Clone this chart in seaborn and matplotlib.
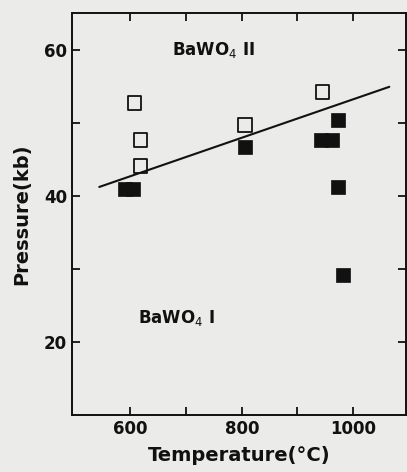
import pandas as pd
import matplotlib
matplotlib.use('Agg')
import matplotlib.pyplot as plt
import seaborn as sns

# open squares = BaWO4 II observed, filled = BaWO4 I observed
open_T = [607, 618, 618, 806, 945]
open_P = [52.7, 47.6, 44.1, 49.7, 54.2]
filled_T = [591, 604, 805, 943, 962, 973, 972, 982]
filled_P = [40.9, 40.9, 46.7, 47.6, 47.6, 50.4, 41.2, 29.1]
line_T = [544, 1065]
line_P = [41.2, 54.9]

df_open = pd.DataFrame({'T': open_T, 'P': open_P})
df_filled = pd.DataFrame({'T': filled_T, 'P': filled_P})
df_line = pd.DataFrame({'T': line_T, 'P': line_P})

sns.set_style('ticks')
plt.rcParams['font.family'] = ['DejaVu Sans']
bg = '#ebebe9'
ink = '#111111'

fig = plt.figure(figsize=(4.07, 4.72), dpi=100, facecolor=bg)
ax = fig.add_axes([72/407, 1 - 415/472, (406-72)/407, (415-13)/472])
ax.set_facecolor(bg)

sns.lineplot(data=df_line, x='T', y='P', color=ink, linewidth=1.5, ax=ax)
sns.scatterplot(data=df_open, x='T', y='P', marker='s', s=95, facecolor='none',
                edgecolor=ink, linewidth=1.3, ax=ax)
sns.scatterplot(data=df_filled, x='T', y='P', marker='s', s=115, color=ink,
                edgecolor=ink, linewidth=0.5, ax=ax)

ax.text(675, 60, 'BaWO$_4$ II', fontsize=12, fontweight='bold', va='center', ha='left', color=ink)
ax.text(613, 23.3, 'BaWO$_4$ I', fontsize=12, fontweight='bold', va='center', ha='left', color=ink)

ax.set_xlim(495, 1095)
ax.set_ylim(10, 65)
ax.set_xticks([600, 700, 800, 900, 1000])
ax.set_xticklabels(['600', '', '800', '', '1000'])
ax.set_yticks([20, 30, 40, 50, 60])
ax.set_yticklabels(['20', '', '40', '', '60'])
ax.tick_params(direction='in', length=6, width=1.3, top=True, right=True,
               labelsize=12, colors=ink)
for lab in ax.get_xticklabels() + ax.get_yticklabels():
    lab.set_fontweight('bold')
for sp in ax.spines.values():
    sp.set_linewidth(1.4)
    sp.set_color(ink)

ax.set_xlabel('Temperature(°C)', fontsize=14, fontweight='bold', labelpad=6, color=ink)
ax.set_ylabel('Pressure(kb)', fontsize=14, fontweight='bold', labelpad=9, color=ink)

fig.savefig('out.png', dpi=100, facecolor=bg)
